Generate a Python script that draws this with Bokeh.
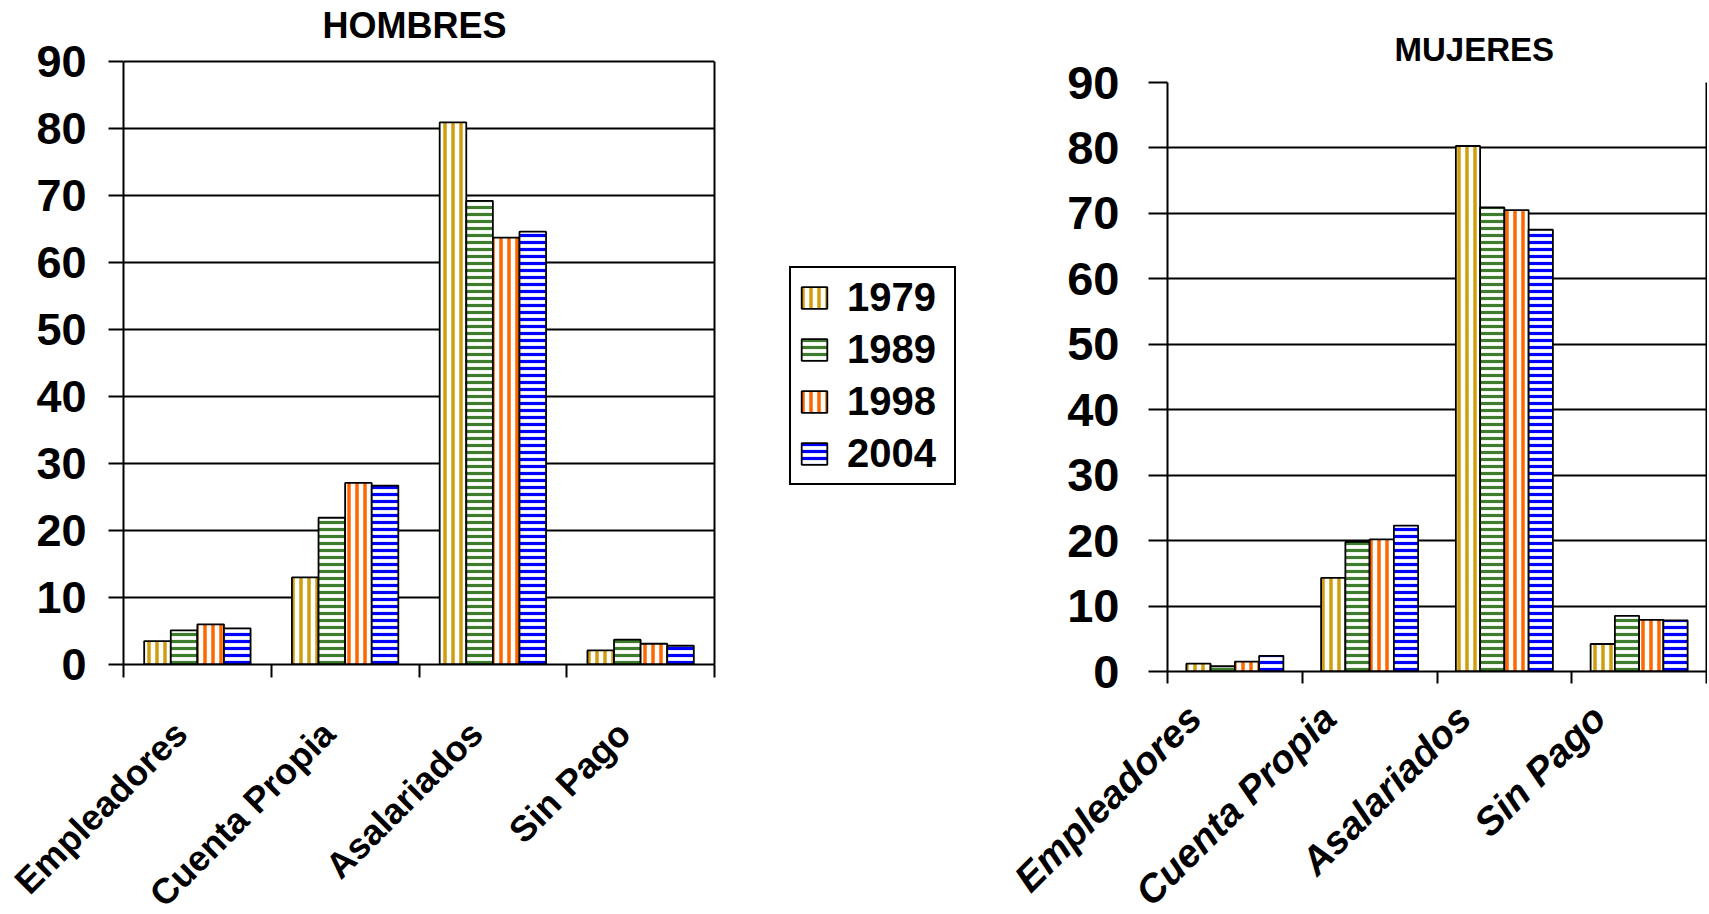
import math
from jinja2 import Template
from bokeh.plotting import figure
from bokeh.models import Range1d, FixedTicker, Legend, LegendItem, LinearAxis
from bokeh.embed import file_html
from bokeh.resources import INLINE

# ---------------- data ----------------
categories = ["Empleadores", "Cuenta Propia", "Asalariados", "Sin Pago"]
years = ["1979", "1989", "1998", "2004"]

hombres_1979 = [3.5, 13.0, 80.9, 2.1]
hombres_1989 = [5.1, 21.9, 69.2, 3.7]
hombres_1998 = [6.0, 27.1, 63.7, 3.1]
hombres_2004 = [5.4, 26.7, 64.6, 2.8]

mujeres_1979 = [1.2, 14.3, 80.3, 4.2]
mujeres_1989 = [0.8, 19.8, 70.9, 8.5]
mujeres_1998 = [1.5, 20.2, 70.5, 7.9]
mujeres_2004 = [2.4, 22.3, 67.5, 7.8]

y_ticks = [0, 10, 20, 30, 40, 50, 60, 70, 80, 90]

# ---------------- style ----------------
FONT = "Liberation Sans"
bar_styles = [
    dict(hatch_color="#D09E0C", hatch_pattern="vertical_line", hatch_scale=8, hatch_weight=3.5),
    dict(hatch_color="#3E7D2E", hatch_pattern="horizontal_line", hatch_scale=7, hatch_weight=3.2),
    dict(hatch_color="#FF6600", hatch_pattern="vertical_line", hatch_scale=8, hatch_weight=3.5),
    dict(hatch_color="#0000FF", hatch_pattern="horizontal_line", hatch_scale=7, hatch_weight=3.2),
]
offsets = [-0.27, -0.09, 0.09, 0.27]
BAR_W = 0.18
H = 950


def make_chart(series, title, width, mb_left, mb_right, mb_top, frame_bottom, y_top_pad,
               tick_size, tick_out, tick_standoff,
               title_size, title_offset, title_standoff,
               cat_size, cat_style, cat_shift, cat_standoff, xtick_out):
    n = len(categories)
    y_end = y_ticks[-1] + y_top_pad
    p = figure(width=width, height=H, x_range=Range1d(0, n),
               y_range=Range1d(y_ticks[0], y_end),
               output_backend="svg", toolbar_location=None,
               min_border_left=mb_left, min_border_right=mb_right,
               min_border_top=mb_top, min_border_bottom=H - frame_bottom,
               background_fill_color="white", border_fill_color="white")
    p.outline_line_color = None

    renderers = []
    for k, vals in enumerate(series):
        xs = [i + 0.5 + offsets[k] for i in range(n)]
        r = p.vbar(x=xs, top=vals, bottom=0, width=BAR_W, fill_color="white",
                   line_color="black", line_width=1.8, **bar_styles[k])
        renderers.append(r)

    # title
    p.title.text = title
    p.title.text_font = FONT
    p.title.text_font_size = title_size
    p.title.text_font_style = "bold"
    p.title.text_color = "black"
    p.title.align = "left"
    p.title.offset = title_offset
    p.title.standoff = title_standoff
    p.title.vertical_align = "bottom"

    # y axis
    yt = FixedTicker(ticks=y_ticks)
    p.yaxis.ticker = yt
    p.yaxis.bounds = (y_ticks[0], y_ticks[-1])
    p.ygrid.ticker = yt
    p.ygrid.grid_line_color = "black"
    p.ygrid.grid_line_width = 2
    p.xgrid.visible = False
    p.yaxis.axis_line_color = "black"
    p.yaxis.axis_line_width = 2
    p.yaxis.major_tick_out = tick_out
    p.yaxis.major_tick_in = 0
    p.yaxis.major_tick_line_width = 2
    p.yaxis.major_tick_line_color = "black"
    p.yaxis.minor_tick_line_color = None
    p.yaxis.major_label_standoff = tick_standoff
    p.yaxis.major_label_text_font = FONT
    p.yaxis.major_label_text_font_size = tick_size
    p.yaxis.major_label_text_font_style = "bold"
    p.yaxis.major_label_text_color = "black"

    # right border of the plot area (from 0 to 90)
    rax = LinearAxis(ticker=FixedTicker(ticks=[]), bounds=(y_ticks[0], y_ticks[-1]),
                     axis_line_color="black", axis_line_width=2,
                     major_tick_line_color=None, minor_tick_line_color=None,
                     major_tick_out=0, major_tick_in=0, minor_tick_out=0, minor_tick_in=0,
                     major_label_standoff=0, major_label_text_font_size="0px")
    p.add_layout(rax, "right")

    # x axis: category names as rotated labels, ticks at category boundaries
    label_pos = [round(i + 0.5 + cat_shift, 4) for i in range(n)]
    p.xaxis.ticker = FixedTicker(ticks=label_pos, minor_ticks=list(range(n + 1)))
    p.xaxis.major_label_overrides = {pos: c for pos, c in zip(label_pos, categories)}
    p.xaxis.major_label_orientation = math.pi / 4
    p.xaxis.major_label_standoff = cat_standoff
    p.xaxis.major_label_text_font = FONT
    p.xaxis.major_label_text_font_size = cat_size
    p.xaxis.major_label_text_font_style = cat_style
    p.xaxis.major_label_text_color = "black"
    p.xaxis.axis_line_color = "black"
    p.xaxis.axis_line_width = 2
    p.xaxis.major_tick_line_color = None
    p.xaxis.major_tick_out = 0
    p.xaxis.major_tick_in = 0
    p.xaxis.minor_tick_out = xtick_out
    p.xaxis.minor_tick_in = 0
    p.xaxis.minor_tick_line_color = "black"
    p.xaxis.minor_tick_line_width = 2
    return p, renderers


hombres = [hombres_1979, hombres_1989, hombres_1998, hombres_2004]
mujeres = [mujeres_1979, mujeres_1989, mujeres_1998, mujeres_2004]

# left chart: plot area x 123..714, 90-line at y 60, 0-line at y 664
p1, r1 = make_chart(hombres, "HOMBRES",
                    width=730, mb_left=123, mb_right=16, mb_top=46, frame_bottom=664,
                    y_top_pad=14 * 90 / 604,
                    tick_size="45px", tick_out=15, tick_standoff=22,
                    title_size="36px", title_offset=199, title_standoff=4,
                    cat_size="36px", cat_style="bold", cat_shift=-0.112, cat_standoff=50,
                    xtick_out=13)

# right chart: plot area x 1167..1706, 90-line at y 82, 0-line at y 671
p2, r2 = make_chart(mujeres, "MUJERES",
                    width=717, mb_left=177, mb_right=1, mb_top=82, frame_bottom=671,
                    y_top_pad=0,
                    tick_size="47px", tick_out=19, tick_standoff=29,
                    title_size="33px", title_offset=227, title_standoff=30,
                    cat_size="39px", cat_style="bold italic", cat_shift=-0.30, cat_standoff=28,
                    xtick_out=12)

# legend panel between the two charts: hidden copies of the HOMBRES series,
# present only so that the legend can show their swatches
n = len(categories)
p3 = figure(width=260, height=H, x_range=Range1d(0, n), y_range=Range1d(0, y_ticks[-1]),
            output_backend="svg", toolbar_location=None,
            x_axis_location=None, y_axis_location=None,
            min_border=0, min_border_left=0, min_border_right=0,
            min_border_top=0, min_border_bottom=0,
            background_fill_color="white", border_fill_color="white")
p3.outline_line_color = None
p3.xgrid.visible = False
p3.ygrid.visible = False
swatches = []
for k, vals in enumerate(hombres):
    xs = [i + 0.5 + offsets[k] for i in range(n)]
    swatches.append(p3.vbar(x=xs, top=vals, bottom=0, width=BAR_W, fill_color="white",
                            line_color="black", line_width=1.8, visible=False,
                            **bar_styles[k]))
legend = Legend(items=[LegendItem(label=y, renderers=[r]) for y, r in zip(years, swatches)],
                location=(59, H - 485), orientation="vertical", click_policy="none",
                label_text_font=FONT, label_text_font_size="40px",
                label_text_font_style="bold", label_text_color="black",
                glyph_width=32, glyph_height=27, label_standoff=17, label_width=100,
                padding=7, spacing=7, margin=0,
                border_line_color="black", border_line_width=2, border_line_alpha=1.0,
                background_fill_color="white", background_fill_alpha=1.0)
p3.add_layout(legend)

PAGE = Template("""{% from macros import embed %}<!DOCTYPE html>
<html lang="en">
  <head>
    <meta charset="utf-8">
    <title>Bokeh Plot</title>
    <style>
      html, body { margin: 0; padding: 0; overflow: hidden; }
      .charts { display: flex; flex-direction: row; align-items: flex-start; }
    </style>
    {{ bokeh_js }}
    {{ bokeh_css }}
  </head>
  <body>
    <div class="charts">
    {% for doc in docs %}{% for root in doc.roots %}{{ embed(root) }}
    {% endfor %}{% endfor %}
    </div>
    {{ plot_script }}
  </body>
</html>""")

open("out.html", "w").write(file_html([p1, p3, p2], INLINE, template=PAGE))
